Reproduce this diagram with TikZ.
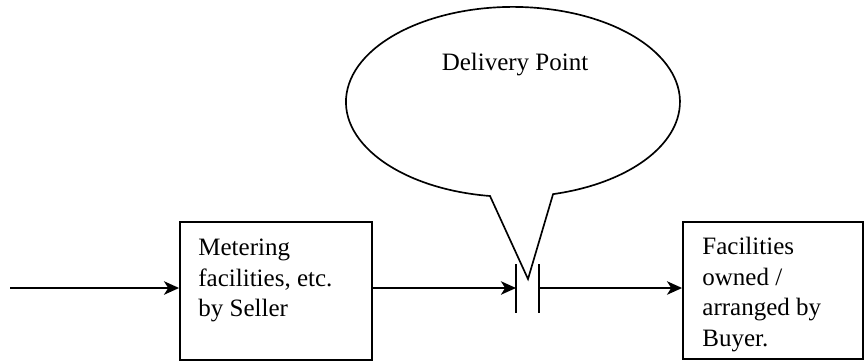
\documentclass[tikz,border=0pt]{standalone}
\usepackage{fontspec}
\setmainfont{Liberation Serif}
\usetikzlibrary{arrows.meta,calc}
\tikzset{
    box/.style={draw,line width=1.1pt,inner sep=0pt},
    boxtext/.style={anchor=north west,align=left,inner sep=0pt,font=\fontsize{15}{18.3}\selectfont},
    flow/.style={line width=1.5pt,-{Stealth[length=9pt,width=8pt,inset=2.5pt]}},
    plate/.style={line width=1.1pt},
}
\begin{document}
\begin{tikzpicture}[x=0.6pt,y=-0.6pt]
    \useasboundingbox (0,0) rectangle (866,363);
    % boxes
    \node[box,minimum width=115.2pt,minimum height=82.8pt] (meter) at (276,291) {};
    \node[boxtext] (metertxt) at ($(meter.north west)+(19,18)$) {Metering\\facilities, etc.\\by Seller};
    \node[box,minimum width=108pt,minimum height=82.2pt] (buyer) at (773,290.5) {};
    \node[boxtext] (buyertxt) at ($(buyer.north west)+(20,16)$) {Facilities\\owned /\\arranged by\\Buyer.};
    % delivery point
    \coordinate (in) at (10,288);
    \coordinate (plateL) at (516,288);
    \coordinate (plateR) at (539,288);
    \coordinate (tip) at (528,279);
    \draw[plate] ($(plateL)+(0,-24)$)--($(plateL)+(0,25)$);
    \draw[plate] ($(plateR)+(0,-24)$)--($(plateR)+(0,25)$);
    \draw[flow] (in)--(in -| meter.west);
    \draw[flow] (in -| meter.east)--(plateL);
    \draw[flow] (plateR)--(plateR -| buyer.west);
    % callout
    \draw[line width=1pt] (tip)--(490,196) arc[start angle=97.9,end angle=436.1,x radius=167,y radius=95]--cycle;
    \node[anchor=base,font=\fontsize{15}{18}\selectfont] (dp) at (515,70) {Delivery Point};
\end{tikzpicture}
\end{document}
